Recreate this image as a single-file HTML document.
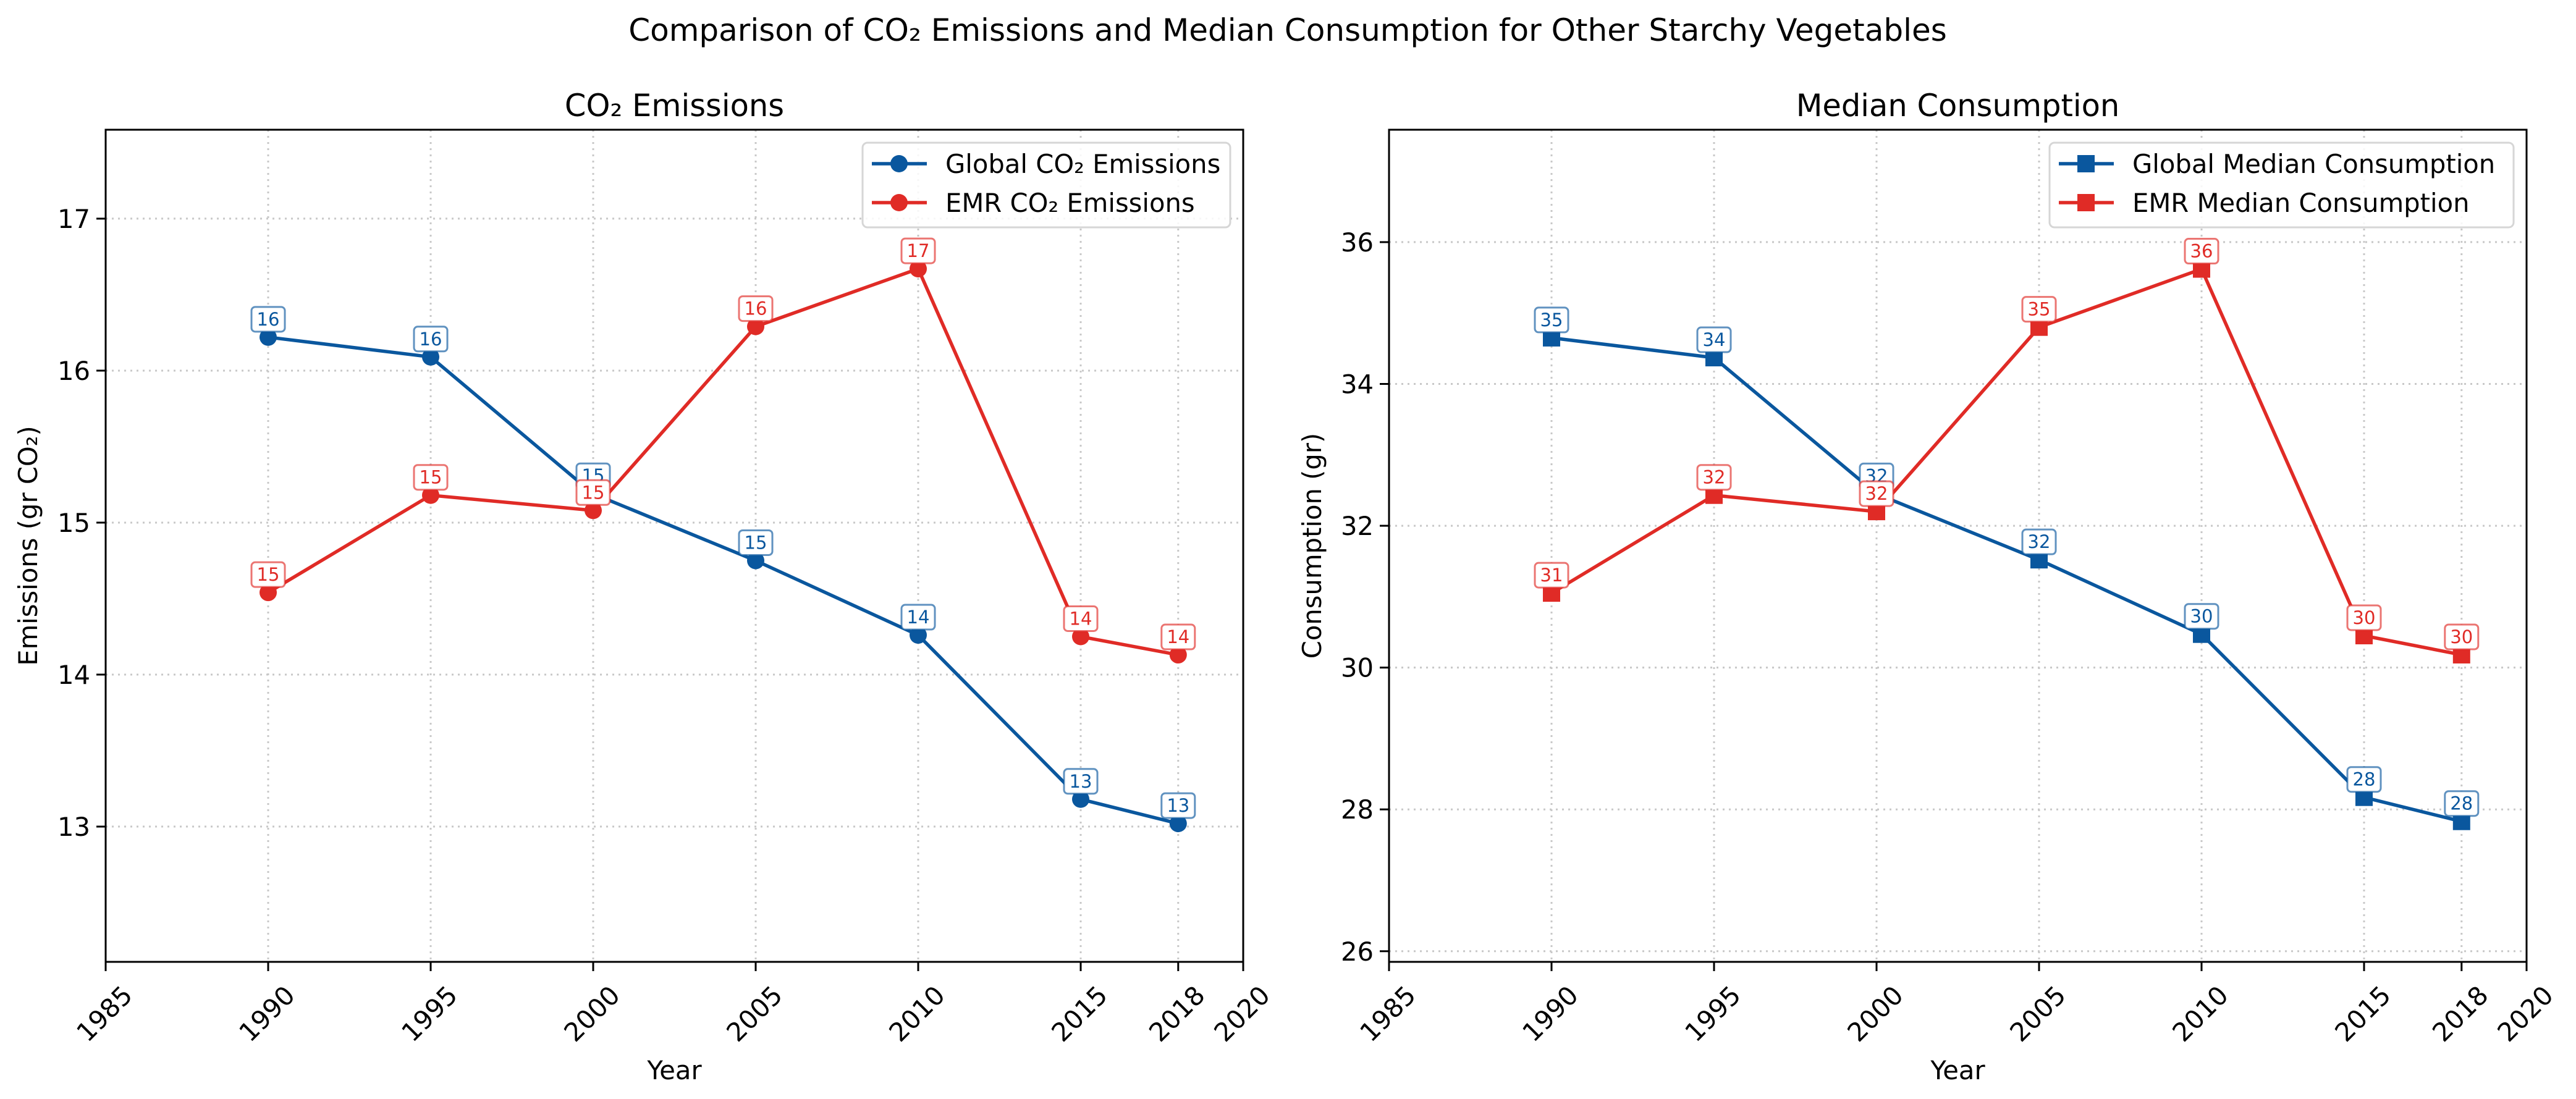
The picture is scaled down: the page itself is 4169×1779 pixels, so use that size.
<!DOCTYPE html>
<html><head><meta charset="utf-8"><style>
html,body{margin:0;padding:0;background:#fff;}
svg{display:block;font-family:"DejaVu Sans","Liberation Sans",sans-serif;}
</style></head><body>
<svg id="fig" width="4169" height="1779" viewBox="0 0 4169 1779" xmlns="http://www.w3.org/2000/svg">
<rect width="4169" height="1779" fill="#fff"/>
<text x="2084" y="66" font-size="50" text-anchor="middle">Comparison of CO₂ Emissions and Median Consumption for Other Starchy Vegetables</text>
</svg>
<script>
const years = [1990, 1995, 2000, 2005, 2010, 2015, 2018];
const xTicks = [1985, 1990, 1995, 2000, 2005, 2010, 2015, 2018, 2020];
const globalEmissions = [16.22, 16.09, 15.19, 14.75, 14.26, 13.18, 13.02];
const emrEmissions = [14.54, 15.18, 15.08, 16.29, 16.67, 14.25, 14.13];
const globalConsumption = [34.65, 34.37, 32.45, 31.52, 30.47, 28.17, 27.83];
const emrConsumption = [31.05, 32.43, 32.2, 34.8, 35.62, 30.45, 30.18];
const emissionsTicks = [13, 14, 15, 16, 17];
const consumptionTicks = [26, 28, 30, 32, 34, 36];

const NS = 'http://www.w3.org/2000/svg';
const svg = document.getElementById('fig');
const BLUE = '#0a579e', RED = '#e02b26';
const FS = 41.7;
function mk(tag, attrs, parent, text) {
  const e = document.createElementNS(NS, tag);
  for (const k in attrs) e.setAttribute(k, attrs[k]);
  if (text !== undefined) e.textContent = text;
  (parent || svg).appendChild(e);
  return e;
}

function panel(cfg) {
  const g = mk('g', {});
  
  
  const L = cfg.left, R = cfg.left + 1841, T = 210, B = 1557;
  const xS = v => L + (v - 1985) / 35 * (R - L);
  const yS = v => B - (v - cfg.ymin) / (cfg.ymax - cfg.ymin) * (B - T);
  xTicks.forEach(t => {
    const l = mk('line', {x1: xS(t), x2: xS(t), y1: T, y2: B, stroke: '#c8c8c8', 'stroke-width': 3, 'stroke-dasharray': '3,7'}, g);
    
    
  });
  cfg.yticks.forEach(t => {
    const l = mk('line', {x1: L, x2: R, y1: yS(t), y2: yS(t), stroke: '#c8c8c8', 'stroke-width': 3, 'stroke-dasharray': '3,7'}, g);
    
    
  });
  xTicks.forEach(t => {
    mk('line', {x1: xS(t), x2: xS(t), y1: B, y2: B + 15, stroke: '#000', 'stroke-width': 3}, g);
    const tx = mk('text', {x: 0, y: 0, 'font-size': FS, 'text-anchor': 'middle', 'dominant-baseline': 'central',
      transform: `translate(${xS(t) - 2},${B + 84}) rotate(-45)`}, g, String(t));
    
    
  });
  cfg.yticks.forEach(t => {
    mk('line', {x1: L - 15, x2: L, y1: yS(t), y2: yS(t), stroke: '#000', 'stroke-width': 3}, g);
    const tx = mk('text', {x: L - 25, y: yS(t) + 15, 'font-size': FS, 'text-anchor': 'end'}, g, String(t));
    
    
  });
  const labels = [];
  cfg.series.forEach(s => {
    const pts = years.map((y, i) => xS(y) + ',' + yS(s.data[i])).join(' ');
    const pl = mk('polyline', {points: pts, fill: 'none', stroke: s.color, 'stroke-width': 5.5, 'stroke-linejoin': 'round'}, g);
    
    
    years.forEach((y, i) => {
      const cx = xS(y), cy = yS(s.data[i]);
      let m;
      if (cfg.marker === 'circle') m = mk('circle', {cx, cy, r: 14, fill: s.color}, g);
      else m = mk('rect', {x: cx - 14, y: cy - 14, width: 28, height: 28, fill: s.color}, g);
      
      
      labels.push({cx, cy, v: s.data[i], color: s.color, key: s.key});
    });
  });
  labels.forEach(lb => {
    const cy = lb.cy - 29;
    const r = mk('rect', {x: lb.cx - 27, y: cy - 20, width: 54, height: 40, rx: 6, fill: '#fff', stroke: lb.color, 'stroke-opacity': 0.65, 'stroke-width': 3}, g);
    
    
    const t = mk('text', {x: lb.cx, y: cy + 10, 'font-size': 29, 'text-anchor': 'middle', fill: lb.color}, g, String(Math.round(lb.v)));
    
    
  });
  const fr = mk('rect', {x: L, y: T, width: R - L, height: B - T, fill: 'none', stroke: '#000', 'stroke-width': 3}, g);
  
  
  const ti = mk('text', {x: (L + R) / 2, y: 188, 'font-size': 49.5, 'text-anchor': 'middle'}, g, cfg.title);
  
  
  const xl = mk('text', {x: (L + R) / 2, y: 1747, 'font-size': FS, 'text-anchor': 'middle'}, g, 'Year');
  
  
  const yl = mk('text', {x: 0, y: 0, 'font-size': FS, 'text-anchor': 'middle', transform: `translate(${cfg.ylabelX},${(T + B) / 2}) rotate(-90)`}, g, cfg.ylabel);
  
  
  const lg = mk('g', {}, g);
  
  
  const lx = R - 21 - cfg.legendW;
  mk('rect', {x: lx, y: 231, width: cfg.legendW, height: 137, rx: 8, fill: '#fff', 'fill-opacity': 0.85, stroke: '#d6d6d6', 'stroke-width': 3}, lg);
  cfg.series.forEach((s, i) => {
    const yy = 265 + i * 63;
    const e = mk('g', {}, lg);
    
    
    mk('line', {x1: lx + 15, x2: lx + 104, y1: yy, y2: yy, stroke: s.color, 'stroke-width': 5.5}, e);
    if (cfg.marker === 'circle') mk('circle', {cx: lx + 59, cy: yy, r: 14, fill: s.color}, e);
    else mk('rect', {x: lx + 45, y: yy - 14, width: 28, height: 28, fill: s.color}, e);
    mk('text', {x: lx + 134, y: yy + 15, 'font-size': FS}, e, s.label);
  });
}

panel({name: 'emissions-panel', left: 171, ymin: 12.11, ymax: 17.585, yticks: emissionsTicks, marker: 'circle',
  title: 'CO₂ Emissions', ylabel: 'Emissions (gr CO₂)', ylabelX: 60, legendW: 595,
  series: [{key: 'global-emissions', data: globalEmissions, color: BLUE, label: 'Global CO₂ Emissions'},
           {key: 'emr-emissions', data: emrEmissions, color: RED, label: 'EMR CO₂ Emissions'}]});
panel({name: 'consumption-panel', left: 2248, ymin: 25.85, ymax: 37.585, yticks: consumptionTicks, marker: 'square',
  title: 'Median Consumption', ylabel: 'Consumption (gr)', ylabelX: 2138, legendW: 751,
  series: [{key: 'global-consumption', data: globalConsumption, color: BLUE, label: 'Global Median Consumption'},
           {key: 'emr-consumption', data: emrConsumption, color: RED, label: 'EMR Median Consumption'}]});
</script>
</body></html>
